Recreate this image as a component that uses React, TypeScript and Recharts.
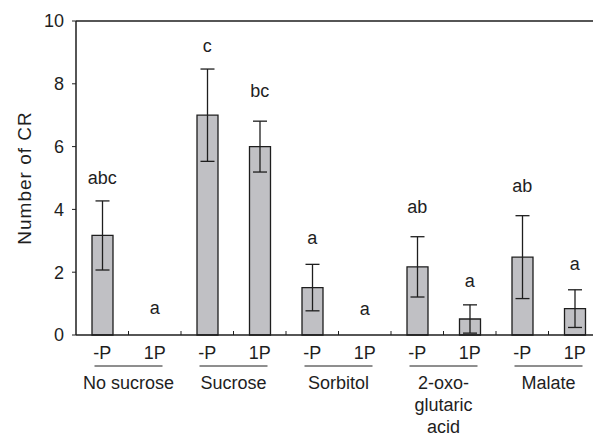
import { ComposedChart, Bar, ErrorBar, Scatter, XAxis, YAxis, ReferenceLine, Label } from 'recharts'

// values (mean ± error, letters = significance groups)
const treatments = ['-P', '1P', '-P', '1P', '-P', '1P', '-P', '1P', '-P', '1P']
const means = [3.17, 0, 7.0, 6.0, 1.51, 0, 2.17, 0.51, 2.48, 0.84]
const errors = [1.1, 0, 1.47, 0.81, 0.74, 0, 0.96, 0.45, 1.32, 0.6]
const letters = ['abc', 'a', 'c', 'bc', 'a', 'a', 'ab', 'a', 'ab', 'a']
const letterPos = [5.01, 0.86, 9.2, 7.78, 3.09, 0.83, 4.08, 1.72, 4.75, 2.26]
const groupNames = [['No sucrose'], ['Sucrose'], ['Sorbitol'], ['2-oxo-', 'glutaric', 'acid'], ['Malate']]
const yTicks = [0, 2, 4, 6, 8, 10]

const FONT = '"Liberation Sans", Arial, sans-serif'
const INK = '#1e1e1e'
const PLOT_W = 525
const STEP = PLOT_W / treatments.length

const rows = treatments.map((t, i) => ({
  cat: `${t}-${i}`,
  label: t,
  mean: means[i],
  err: errors[i],
  letter: letters[i],
  letterPos: letterPos[i],
}))

function CatTick(props: any) {
  const { x, y, index } = props
  const row = rows[index]
  const group = index % 2 === 0 ? groupNames[index / 2] : null
  const gx = x + STEP / 2
  return (
    <g>
      {index > 0 && <line x1={x - STEP / 2} x2={x - STEP / 2} y1={y} y2={y - 4} stroke={INK} strokeWidth={1} />}
      <text x={x} y={y + 18} textAnchor="middle" dominantBaseline="central" fontSize={18} fill={INK} fontFamily={FONT}>
        {row.label}
      </text>
      {group && (
        <g>
          <line x1={gx - 34} x2={gx + 34} y1={y + 31} y2={y + 31} stroke={INK} strokeWidth={1} />
          {group.map((s, k) => (
            <text key={k} x={gx} y={y + 48 + k * 22} textAnchor="middle" dominantBaseline="central" fontSize={18} fill={INK} fontFamily={FONT}>
              {s}
            </text>
          ))}
        </g>
      )}
    </g>
  )
}

function YTitle(props: any) {
  const { viewBox } = props
  const cx = viewBox.x + 8
  const cy = viewBox.y + viewBox.height / 2
  return (
    <text x={cx} y={cy} transform={`rotate(-90, ${cx}, ${cy})`} textAnchor="middle" dominantBaseline="central" fontSize={19} letterSpacing={1} fill={INK} fontFamily={FONT}>
      Number of CR
    </text>
  )
}

function LetterMark(props: any) {
  const { cx, cy, payload } = props
  return (
    <text x={cx} y={cy} textAnchor="middle" dominantBaseline="central" fontSize={18} fill={INK} fontFamily={FONT}>
      {payload.letter}
    </text>
  )
}

export default function App() {
  return (
    <div style={{ position: 'fixed', left: 0, top: 0, width: 593, height: 433, overflow: 'hidden', background: '#fff' }}>
      <ComposedChart width={611} height={433} data={rows} margin={{ top: 21, right: 10, left: 16, bottom: 0 }} style={{ fontFamily: FONT }}>
        <XAxis dataKey="cat" interval={0} height={98} tickLine={false} tickSize={0} tickMargin={0} axisLine={{ stroke: INK, strokeWidth: 1.5 }} tick={<CatTick />} />
        <YAxis
          domain={[0, 10]}
          ticks={yTicks}
          width={60}
          tickSize={4}
          tickMargin={8}
          axisLine={{ stroke: INK, strokeWidth: 1.5 }}
          tickLine={{ stroke: INK }}
          tick={{ fontSize: 18, fill: INK, fontFamily: FONT }}
        >
          <Label content={<YTitle />} />
        </YAxis>
        <ReferenceLine y={10} stroke={INK} strokeWidth={1.5} />
        <Bar dataKey="mean" fill="#c0c0c4" stroke={INK} strokeWidth={1.3} barSize={21} isAnimationActive={false}>
          <ErrorBar dataKey="err" width={7} stroke={INK} strokeWidth={1.3} />
        </Bar>
        <Scatter dataKey="letterPos" shape={<LetterMark />} isAnimationActive={false} />
      </ComposedChart>
    </div>
  )
}
